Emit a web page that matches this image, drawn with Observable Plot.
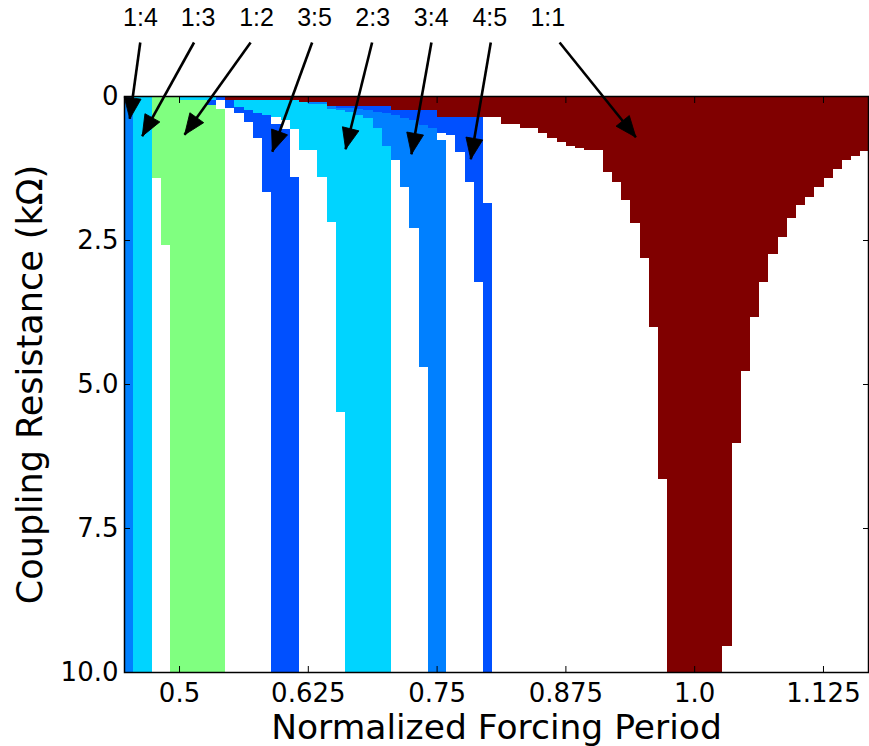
<!DOCTYPE html>
<html><head><meta charset="utf-8">
<script src="https://cdn.jsdelivr.net/npm/d3@7"></script>
<script src="https://cdn.jsdelivr.net/npm/@observablehq/plot@0.6"></script>
<style>body{margin:0;background:#fff}</style>
</head><body><div id="chart"></div>
<script>
// Each row: [period start, period end, resistance top, resistance bottom]
const tongue12 = [
  [0.4734, 0.4823, 0, 1.424],
  [0.4823, 0.4913, 0, 2.587],
  [0.4913, 0.5002, 0, 10],
  [0.5002, 0.5270, 0.075, 10],
  [0.5270, 0.5360, 0.161, 10],
  [0.5360, 0.5449, 0.22, 10]
];
const tongue13 = [[0.4555, 0.4734, 0, 10]];
const tongue14 = [[0.4466, 0.4555, 0, 10]];
const tongue35 = [
  [0.5270, 0.5360, 0.075, 0.161],
  [0.5360, 0.5449, 0, 0.075],
  [0.5449, 0.5538, 0.075, 0.214],
  [0.5538, 0.5628, 0.191, 0.295],
  [0.5628, 0.5717, 0.243, 0.446],
  [0.5717, 0.5806, 0.295, 0.734],
  [0.5806, 0.5896, 0.33, 1.661],
  [0.5896, 0.5985, 0.486, 10],
  [0.5985, 0.6074, 0.573, 10],
  [0.6074, 0.6164, 1.406, 10]
];
const tongue23 = [
  [0.5002, 0.5360, 0, 0.075],
  [0.5538, 0.5628, 0.075, 0.191],
  [0.5628, 0.5717, 0.075, 0.243],
  [0.5717, 0.5806, 0.075, 0.295],
  [0.5806, 0.5896, 0.075, 0.33],
  [0.5896, 0.5985, 0.075, 0.365],
  [0.5985, 0.6074, 0.075, 0.417],
  [0.6074, 0.6164, 0.075, 0.573],
  [0.6164, 0.6253, 0.104, 0.9375],
  [0.6253, 0.6342, 0.139, 0.9375],
  [0.6342, 0.6432, 0.139, 1.401],
  [0.6432, 0.6521, 0.226, 2.182],
  [0.6521, 0.6610, 0.243, 5.481],
  [0.6610, 0.6700, 0.278, 10],
  [0.6700, 0.6789, 0.330, 10],
  [0.6789, 0.6878, 0.382, 10],
  [0.6878, 0.6968, 0.556, 10],
  [0.6968, 0.7057, 0.868, 10]
];
const tongue34 = [
  [0.6253, 0.6432, 0.104, 0.139],
  [0.6432, 0.6521, 0.174, 0.226],
  [0.6521, 0.6610, 0.208, 0.243],
  [0.6610, 0.6700, 0.208, 0.278],
  [0.6700, 0.6789, 0.226, 0.330],
  [0.6789, 0.6878, 0.243, 0.382],
  [0.6878, 0.6968, 0.278, 0.556],
  [0.6968, 0.7057, 0.295, 0.868],
  [0.7057, 0.7147, 0.330, 1.111],
  [0.7147, 0.7236, 0.382, 1.575],
  [0.7236, 0.7325, 0.417, 2.297],
  [0.7325, 0.7415, 0.503, 4.700],
  [0.7415, 0.7504, 0.556, 10],
  [0.7504, 0.7593, 0.764, 10]
];
const tongue45 = [
  [0.6521, 0.6700, 0.174, 0.208],
  [0.6700, 0.6789, 0.174, 0.226],
  [0.6789, 0.6878, 0.174, 0.243],
  [0.6878, 0.6968, 0.174, 0.278],
  [0.6968, 0.7057, 0.174, 0.295],
  [0.7057, 0.7147, 0.243, 0.330],
  [0.7147, 0.7236, 0.243, 0.382],
  [0.7236, 0.7325, 0.243, 0.417],
  [0.7325, 0.7415, 0.243, 0.503],
  [0.7415, 0.7504, 0.243, 0.556],
  [0.7504, 0.7593, 0.373, 0.642],
  [0.7593, 0.7683, 0.373, 0.677],
  [0.7683, 0.7772, 0.373, 0.967],
  [0.7772, 0.7861, 0.373, 1.488],
  [0.7861, 0.7951, 0.373, 3.224],
  [0.7951, 0.8040, 1.858, 10]
];
const tongue11 = [
  [0.5449, 0.6164, 0, 0.075],
  [0.6164, 0.6432, 0, 0.104],
  [0.6432, 0.7057, 0, 0.174],
  [0.7057, 0.7504, 0, 0.243],
  [0.7504, 0.8129, 0, 0.373],
  [0.8129, 0.8308, 0, 0.491],
  [0.8308, 0.8487, 0, 0.561],
  [0.8487, 0.8576, 0, 0.648],
  [0.8576, 0.8666, 0, 0.734],
  [0.8666, 0.8755, 0, 0.790],
  [0.8755, 0.8844, 0, 0.868],
  [0.8844, 0.8934, 0, 0.903],
  [0.8934, 0.9112, 0, 0.9375],
  [0.9112, 0.9202, 0, 1.319],
  [0.9202, 0.9291, 0, 1.498],
  [0.9291, 0.9380, 0, 1.806],
  [0.9380, 0.9470, 0, 2.200],
  [0.9470, 0.9559, 0, 2.8125],
  [0.9559, 0.9648, 0, 4.005],
  [0.9648, 0.9738, 0, 6.649],
  [0.9738, 1.0274, 0, 10],
  [1.0274, 1.0363, 0, 9.543],
  [1.0363, 1.0453, 0, 6.030],
  [1.0453, 1.0542, 0, 4.774],
  [1.0542, 1.0631, 0, 3.842],
  [1.0631, 1.0721, 0, 3.224],
  [1.0721, 1.0810, 0, 2.748],
  [1.0810, 1.0899, 0, 2.443],
  [1.0899, 1.0989, 0, 2.123],
  [1.0989, 1.1078, 0, 1.892],
  [1.1078, 1.1167, 0, 1.748],
  [1.1167, 1.1257, 0, 1.585],
  [1.1257, 1.1346, 0, 1.429],
  [1.1346, 1.1435, 0, 1.273],
  [1.1435, 1.1525, 0, 1.111],
  [1.1525, 1.1614, 0, 1.036],
  [1.1614, 1.1687, 0, 0.950]
];

const ratioLabels = ["1:4", "1:3", "1:2", "3:5", "2:3", "3:4", "4:5", "1:1"];
const labelPeriod = [0.4621, 0.5180, 0.5748, 0.6311, 0.6875, 0.7443, 0.8011, 0.8574];
const labelResistance = [-1.37, -1.37, -1.37, -1.37, -1.37, -1.37, -1.37, -1.37];
const tailPeriod = [0.4619, 0.5141, 0.5690, 0.6287, 0.6869, 0.7445, 0.8021, 0.8689];
const tailResistance = [-0.9375, -0.9375, -0.9375, -0.9375, -0.9375, -0.9375, -0.9375, -0.9375];
const tipPeriod = [0.4517, 0.4638, 0.5049, 0.5901, 0.6612, 0.7251, 0.7827, 0.9429];
const tipResistance = [0.387, 0.689, 0.665, 0.958, 0.915, 1.002, 1.089, 0.707];

const xTicks = [0.5, 0.625, 0.75, 0.875, 1.0, 1.125];
const xTickLabels = ["0.5", "0.625", "0.75", "0.875", "1.0", "1.125"];
const yTicks = [0, 2.5, 5, 7.5, 10];
const yTickLabels = ["0", "2.5", "5.0", "7.5", "10.0"];

const colors = {
  "1:4": "#0080ff", "1:3": "#00d4ff", "1:2": "#80ff80", "3:5": "#0050ff",
  "2:3": "#00d4ff", "3:4": "#0080ff", "4:5": "#0050ff", "1:1": "#800000"
};

const base = {
  width: 869, height: 746,
  marginLeft: 124, marginRight: 1, marginTop: 96, marginBottom: 74,
  x: {domain: [0.4466, 1.1687]},
  y: {domain: [0, 10], reverse: true},
  style: {fontFamily: "DejaVu Sans", background: "white", color: "black"}
};

const probe = Plot.plot({...base, marks: [Plot.frame()]});
const sx = probe.scale("x"), sy = probe.scale("y");

const arrows = ratioLabels.map((r, i) => {
  const dx = sx.apply(tipPeriod[i]) - sx.apply(tailPeriod[i]);
  const dy = sy.apply(tipResistance[i]) - sy.apply(tailResistance[i]);
  return {
    label: r, lp: labelPeriod[i], lr: labelResistance[i],
    p1: tailPeriod[i], r1: tailResistance[i], p2: tipPeriod[i], r2: tipResistance[i],
    angle: Math.atan2(dx, -dy) * 180 / Math.PI
  };
});

const headSymbol = {
  draw(context) {
    const L = 21, W = 17;
    context.moveTo(0, 0);
    context.lineTo(-W / 2, L);
    context.lineTo(W / 2, L);
    context.closePath();
  }
};

function cells(data, key) {
  return Plot.rect(data, {
    x1: d => d[0], x2: d => d[1], y1: d => d[2], y2: d => d[3],
    fill: colors[key], shapeRendering: "crispEdges"
  });
}

const chart = Plot.plot({
  ...base,
  marks: [
    cells(tongue12, "1:2"),
    cells(tongue13, "1:3"),
    cells(tongue14, "1:4"),
    cells(tongue23, "2:3"),
    cells(tongue35, "3:5"),
    cells(tongue34, "3:4"),
    cells(tongue45, "4:5"),
    cells(tongue11, "1:1"),
    Plot.frame({stroke: "black", strokeWidth: 1.5}),
    Plot.axisX(xTicks, {anchor: "bottom", tickSize: -6, tickPadding: 17, fontSize: 26,
      tickFormat: d => xTickLabels[xTicks.indexOf(d)], label: null}),
    Plot.axisX(xTicks, {anchor: "top", tickSize: -6, tickFormat: () => "", label: null}),
    Plot.axisY(yTicks, {anchor: "left", tickSize: -6, tickPadding: 12, fontSize: 26,
      tickFormat: d => yTickLabels[yTicks.indexOf(d)], label: null}),
    Plot.axisY(yTicks, {anchor: "right", tickSize: -6, tickFormat: () => "", label: null}),
    Plot.text(["Normalized Forcing Period"], {frameAnchor: "bottom", dy: 55, fontSize: 34.5, lineAnchor: "middle", textAnchor: "middle"}),
    Plot.text(["Coupling Resistance (kΩ)"], {frameAnchor: "left", dx: -94, rotate: -90, fontSize: 35, lineAnchor: "middle", textAnchor: "middle"}),
    Plot.link(arrows, {x1: "p1", y1: "r1", x2: "p2", y2: "r2", stroke: "black", strokeWidth: 2.6}),
    Plot.dot(arrows, {x: "p2", y: "r2", rotate: "angle", symbol: headSymbol, fill: "black", stroke: "black", strokeWidth: 0.8}),
    Plot.text(arrows, {x: "lp", y: "lr", text: "label", fontSize: 25, fontFamily: "Liberation Sans Narrow, Arial Narrow, sans-serif", fontStretch: "condensed"})
  ]
});
document.getElementById("chart").appendChild(chart);
</script>
</body></html>
